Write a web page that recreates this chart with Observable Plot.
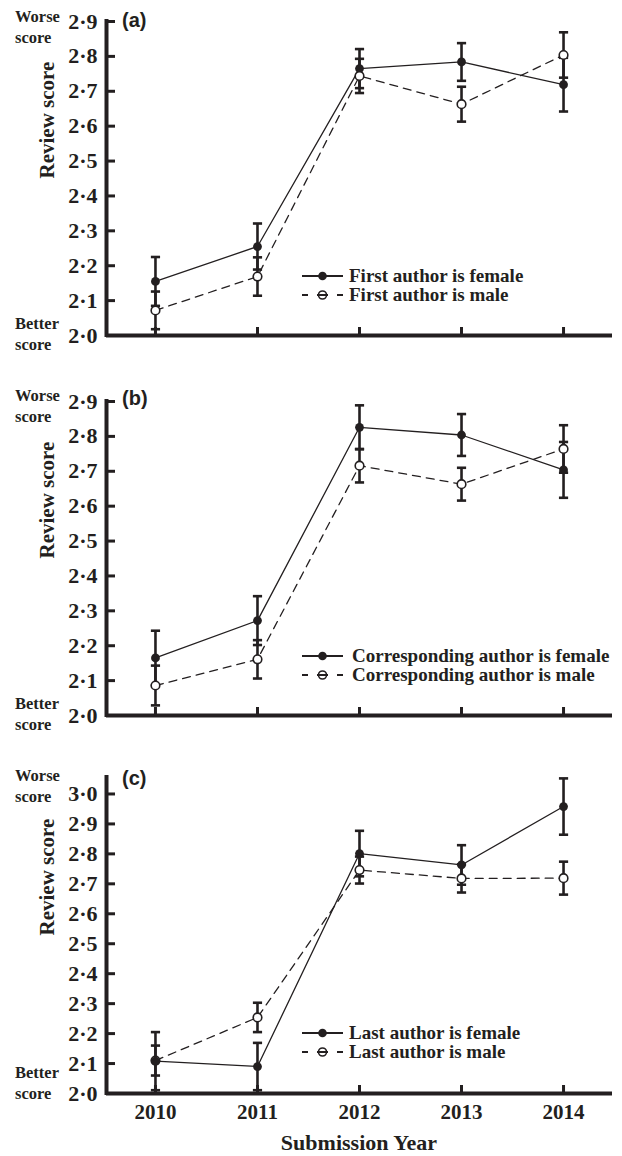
<!DOCTYPE html>
<html><head><meta charset="utf-8">
<script src="https://cdn.jsdelivr.net/npm/d3@7"></script>
<script src="https://cdn.jsdelivr.net/npm/@observablehq/plot@0.6"></script>
<style>
body{margin:0;background:#fff;}
#wrap{position:relative;width:622px;height:1156px;overflow:hidden;color:#231f20;}
.panel{position:absolute;left:0;width:622px;}
.side{position:absolute;left:15px;font-family:"Liberation Serif",serif;font-weight:bold;font-size:16.5px;line-height:21px;white-space:nowrap;}
.tag{position:absolute;left:122px;font-family:"Liberation Sans",Arial,sans-serif;font-weight:bold;font-size:20px;line-height:20px;}
.legend{position:absolute;left:302px;font-family:"Liberation Serif",serif;font-weight:bold;font-size:19px;white-space:nowrap;}
.legend .row{display:flex;align-items:center;height:19.5px;}
.legend svg{flex:none;}
.xtitle{position:absolute;left:106px;width:506px;text-align:center;font-family:"Liberation Serif",serif;font-weight:bold;font-size:22px;line-height:20px;}
</style></head><body><div id="wrap"></div>
<script>
const years = [2010, 2011, 2012, 2013, 2014];
const yTicksAB = [2.0, 2.1, 2.2, 2.3, 2.4, 2.5, 2.6, 2.7, 2.8, 2.9];
const yTicksC = [2.0, 2.1, 2.2, 2.3, 2.4, 2.5, 2.6, 2.7, 2.8, 2.9, 3.0];

// (a) first author
const firstFemale = [2.155, 2.255, 2.765, 2.784, 2.719];
const firstFemaleErr = [0.070, 0.066, 0.056, 0.054, 0.077];
const firstMale = [2.072, 2.169, 2.744, 2.663, 2.804];
const firstMaleErr = [0.054, 0.055, 0.049, 0.050, 0.065];
// (b) corresponding author
const corrFemale = [2.165, 2.272, 2.826, 2.804, 2.704];
const corrFemaleErr = [0.078, 0.070, 0.063, 0.060, 0.080];
const corrMale = [2.086, 2.161, 2.716, 2.663, 2.764];
const corrMaleErr = [0.057, 0.055, 0.048, 0.047, 0.068];
// (c) last author
const lastFemale = [2.108, 2.090, 2.801, 2.763, 2.958];
const lastFemaleErr = [0.097, 0.079, 0.076, 0.066, 0.094];
const lastMale = [2.110, 2.254, 2.746, 2.718, 2.719];
const lastMaleErr = [0.050, 0.049, 0.045, 0.047, 0.055];

const ink = "#231f20";
const serif = "Liberation Serif, Times New Roman, serif";
const xDomain = [2009.52, 2014.48];
const fmt = d => d.toFixed(1).replace(".", "·");
const capSymbol = {draw(ctx, size) { const w = Math.sqrt(size / Math.PI); ctx.moveTo(-w, 0); ctx.lineTo(w, 0); }};

const panels = [
  {tag: "(a)", female: firstFemale, femaleErr: firstFemaleErr, male: firstMale, maleErr: firstMaleErr,
   labels: ["First author is female", "First author is male"], yMax: 2.9, yTicks: yTicksAB,
   top: 0, height: 350, marginTop: 21, marginBottom: 15, years: false, maleOnTop: true,
   worseTop: 6, betterTop: 313, tagTop: 10, legendTop: 266, swatch: 47},
  {tag: "(b)", female: corrFemale, femaleErr: corrFemaleErr, male: corrMale, maleErr: corrMaleErr,
   labels: ["Corresponding author is female", "Corresponding author is male"], yMax: 2.9, yTicks: yTicksAB,
   top: 370, height: 360, marginTop: 31, marginBottom: 15, years: false, maleOnTop: true,
   worseTop: 385, betterTop: 693, tagTop: 388, legendTop: 646, swatch: 50},
  {tag: "(c)", female: lastFemale, femaleErr: lastFemaleErr, male: lastMale, maleErr: lastMaleErr,
   labels: ["Last author is female", "Last author is male"], yMax: 3.055, yTicks: yTicksC,
   top: 730, height: 426, marginTop: 47, marginBottom: 63, years: true, maleOnTop: false,
   worseTop: 765, betterTop: 1062, tagTop: 768, legendTop: 1023, swatch: 47}
];

const wrap = document.getElementById("wrap");

for (const p of panels) {
  const F = years.map((year, i) => ({year, v: p.female[i], e: p.femaleErr[i]}));
  const M = years.map((year, i) => ({year, v: p.male[i], e: p.maleErr[i]}));
  const err = data => [
    Plot.ruleX(data, {x: "year", y1: d => d.v - d.e, y2: d => d.v + d.e, stroke: ink, strokeWidth: 2.6}),
    Plot.dot(data, {x: "year", y: d => d.v + d.e, symbol: capSymbol, r: 4.6, stroke: ink, strokeWidth: 2.6}),
    Plot.dot(data, {x: "year", y: d => d.v - d.e, symbol: capSymbol, r: 4.6, stroke: ink, strokeWidth: 2.6})
  ];
  const femaleDots = Plot.dot(F, {x: "year", y: "v", r: 4.4, fill: ink, stroke: "none"});
  const maleDots = Plot.dot(M, {x: "year", y: "v", r: 4.3, fill: "white", stroke: ink, strokeWidth: 1.6});
  const chart = Plot.plot({
    width: 622, height: p.height,
    marginLeft: 106, marginRight: 10, marginTop: p.marginTop, marginBottom: p.marginBottom,
    style: {color: ink, background: "white", overflow: "visible"},
    x: {domain: xDomain},
    y: {domain: [2.0, p.yMax]},
    marks: [
      ...err(F), ...err(M),
      Plot.line(F, {x: "year", y: "v", stroke: ink, strokeWidth: 1.3}),
      Plot.line(M, {x: "year", y: "v", stroke: ink, strokeWidth: 1.3, strokeDasharray: "8,6"}),
      ...(p.maleOnTop ? [femaleDots, maleDots] : [maleDots, femaleDots]),
      Plot.axisY({ticks: p.yTicks, tickSize: -9, strokeWidth: 3, tickFormat: fmt, fontSize: 22,
                  fontFamily: serif, fontWeight: "bold", label: null, fill: ink, stroke: ink}),
      Plot.axisX({ticks: years, tickSize: -8, strokeWidth: 3, tickPadding: 19,
                  tickFormat: p.years ? (d => String(d)) : (() => ""), fontSize: 21,
                  fontFamily: serif, fontWeight: "bold", label: null, fill: ink, stroke: ink}),
      Plot.ruleX([xDomain[0]], {y1: 2.0, y2: p.yMax, stroke: ink, strokeWidth: 4, strokeLinecap: "square"}),
      Plot.ruleY([2.0], {stroke: ink, strokeWidth: 4}),
      Plot.text(["Review score"], {frameAnchor: "left", rotate: -90, dx: -59, fontSize: 21,
                  fontFamily: serif, fontWeight: "bold", fill: ink})
    ]
  });
  const div = document.createElement("div");
  div.className = "panel";
  div.style.top = p.top + "px";
  div.appendChild(chart);
  wrap.appendChild(div);

  const worse = document.createElement("div");
  worse.className = "side"; worse.style.top = p.worseTop + "px";
  worse.innerHTML = "Worse<br>score";
  wrap.appendChild(worse);
  const better = document.createElement("div");
  better.className = "side"; better.style.top = p.betterTop + "px";
  better.innerHTML = "Better<br>score";
  wrap.appendChild(better);
  const tag = document.createElement("div");
  tag.className = "tag"; tag.style.top = p.tagTop + "px"; tag.textContent = p.tag;
  wrap.appendChild(tag);

  const lg = document.createElement("div");
  lg.className = "legend"; lg.style.top = p.legendTop + "px";
  const sw = p.swatch;
  lg.innerHTML =
    `<div class="row"><svg width="${sw}" height="20"><line x1="0" x2="41" y1="10" y2="10" stroke="${ink}" stroke-width="2"/><circle cx="20.5" cy="10" r="4.3" fill="${ink}"/></svg><span>${p.labels[0]}</span></div>` +
    `<div class="row"><svg width="${sw}" height="20"><circle cx="20.5" cy="10" r="4" fill="white" stroke="${ink}" stroke-width="1.6"/><line x1="0" x2="41" y1="10" y2="10" stroke="${ink}" stroke-width="2" stroke-dasharray="6 9 11 9 6"/></svg><span>${p.labels[1]}</span></div>`;
  wrap.appendChild(lg);
}

const xt = document.createElement("div");
xt.className = "xtitle"; xt.style.top = "1133px"; xt.textContent = "Submission Year";
wrap.appendChild(xt);
</script></body></html>
